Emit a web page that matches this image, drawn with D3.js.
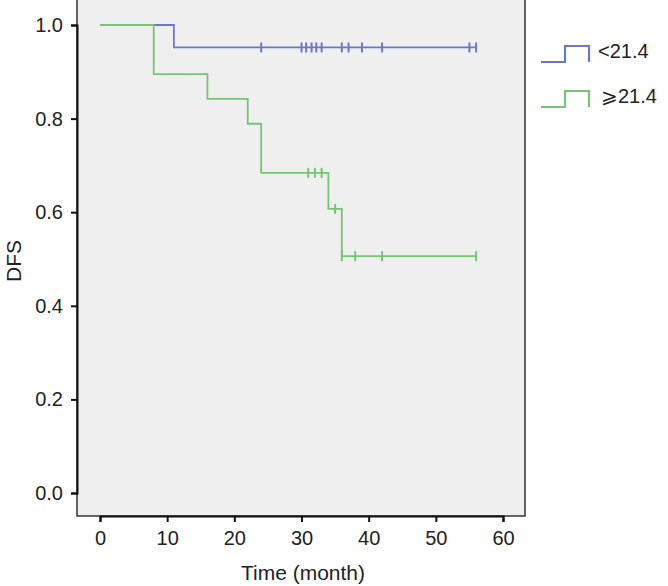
<!DOCTYPE html>
<html><head><meta charset="utf-8">
<script src="https://cdn.jsdelivr.net/npm/d3@7"></script>
<style>body{margin:0;background:#fff}svg{display:block}</style>
</head><body><svg id="c" width="668" height="586"></svg>
<script>
// Data
const xTicks = [0, 10, 20, 30, 40, 50, 60];
const yTicks = [0.0, 0.2, 0.4, 0.6, 0.8, 1.0];
const seriesNames = ["<21.4", "\u2A7E21.4"];
const seriesColors = ["#6b78c6", "#78c474"];
// step points: [time, survival]
const lowSteps = [[0, 1.0], [11, 0.952], [56, 0.952]];
const lowCensor = [24, 30, 30.7, 31.5, 32.2, 33, 36, 37, 39, 42, 55, 56];
const highSteps = [[0, 1.0], [8, 0.895], [16, 0.842], [22, 0.789], [24, 0.684], [34, 0.607], [36, 0.506], [56, 0.506]];
const highCensor = [31, 32, 33, 35, 36, 38, 42, 56];

const svg = d3.select("#c");
const L = 77, R = 525, T = 0, B = 516;
const x = d3.scaleLinear().domain([0, 60]).range([100, 503]);
const y = d3.scaleLinear().domain([0, 1]).range([493, 25]);

svg.append("rect").attr("x", L).attr("y", T - 2).attr("width", R - L).attr("height", B - T + 2)
  .attr("fill", "#efefef").attr("stroke", "#333").attr("stroke-width", 1.5);

const font = "Liberation Sans, Arial, sans-serif";
const yAxis = svg.append("g").attr("transform", `translate(${L},0)`)
  .call(d3.axisLeft(y).tickValues(yTicks).tickFormat(d3.format(".1f")).tickSize(6).tickPadding(8));
const xAxis = svg.append("g").attr("transform", `translate(0,${B})`)
  .call(d3.axisBottom(x).tickValues(xTicks).tickSize(6).tickPadding(9));
[xAxis, yAxis].forEach(a => {
  a.select(".domain").attr("stroke", "#111").attr("stroke-width", 2);
  a.selectAll(".tick line").attr("stroke", "#111").attr("stroke-width", 2);
  a.selectAll(".tick text").attr("font-family", font).attr("font-size", 20).attr("fill", "#222");
});

svg.append("text").attr("x", 303).attr("y", 580).attr("text-anchor", "middle")
  .attr("font-family", font).attr("font-size", 21).attr("fill", "#222").text("Time (month)");
svg.append("text").attr("transform", "translate(21,261) rotate(-90)").attr("text-anchor", "middle")
  .attr("font-family", font).attr("font-size", 21).attr("fill", "#222").text("DFS");

const line = d3.line().x(d => x(d[0])).y(d => y(d[1])).curve(d3.curveStepAfter);
function survAt(steps, t) {
  let s = steps[0][1];
  for (const p of steps) if (p[0] <= t) s = p[1];
  return s;
}
const all = [[lowSteps, lowCensor], [highSteps, highCensor]];
all.forEach(([steps, cens], i) => {
  svg.append("path").datum(steps).attr("d", line).attr("fill", "none")
    .attr("stroke", seriesColors[i]).attr("stroke-width", 1.8);
  svg.selectAll(null).data(cens).enter().append("line")
    .attr("x1", d => x(d)).attr("x2", d => x(d))
    .attr("y1", d => y(survAt(steps, d)) - 5).attr("y2", d => y(survAt(steps, d)) + 5)
    .attr("stroke", seriesColors[i]).attr("stroke-width", 2);
});

// legend
const leg = svg.append("g");
seriesNames.forEach((n, i) => {
  const y0 = 62 + i * 45;
  leg.append("path")
    .attr("d", `M541,${y0} H565 V${y0 - 16} H589 V${y0}`)
    .attr("fill", "none").attr("stroke", seriesColors[i]).attr("stroke-width", 2.2);
  leg.append("text").attr("x", i === 0 ? 598 : 601).attr("y", y0 - 4).attr("font-family", font)
    .attr("font-size", 20).attr("fill", "#222").text(n);
});
</script></body></html>
